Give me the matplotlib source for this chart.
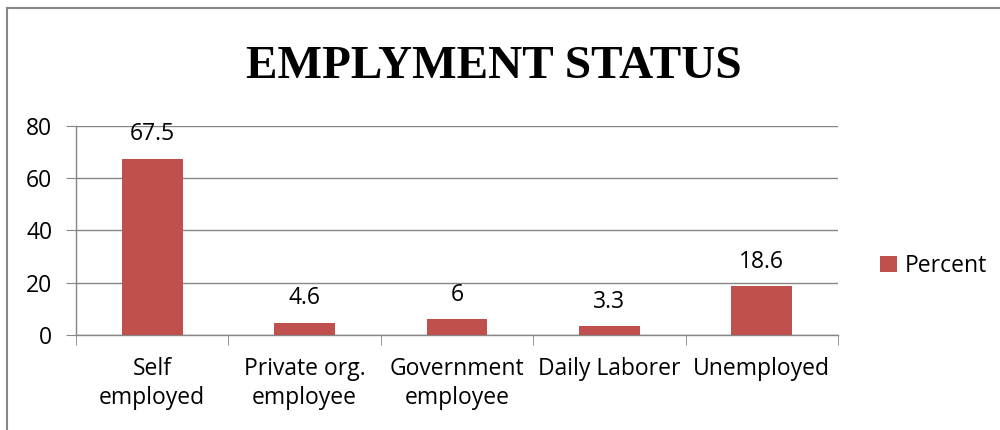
import matplotlib.pyplot as plt
from matplotlib.lines import Line2D

# data
categories = ['Self\nemployed', 'Private org.\nemployee', 'Government\nemployee',
              'Daily Laborer', 'Unemployed']
percent = [67.5, 4.6, 6, 3.3, 18.6]
value_labels = ['67.5', '4.6', '6', '3.3', '18.6']
y_ticks = [0, 20, 40, 60, 80]

plt.rcParams['font.family'] = ['Open Sans', 'DejaVu Sans']

fig = plt.figure(figsize=(10, 4.3), dpi=100)
ax = fig.add_axes([0.076, 0.221, 0.762, 0.486])

bar_color = '#C0504D'
grid_color = '#868686'
fs = 16.5

x = range(len(categories))
ax.bar(x, percent, width=0.4, color=bar_color, label='Percent', zorder=3)

for i, (v, s) in enumerate(zip(percent, value_labels)):
    ax.annotate(s, (i, v), xytext=(0, 9), textcoords='offset points',
                ha='center', va='bottom', fontsize=fs)

ax.set_xlim(-0.5, len(categories) - 0.5)
ax.set_ylim(0, 80)
ax.set_yticks(y_ticks)
ax.set_yticklabels([str(t) for t in y_ticks], fontsize=fs)
ax.yaxis.grid(True, color=grid_color, linewidth=1, zorder=0)
ax.set_axisbelow(True)

# category labels centred, boundary tick marks
ax.set_xticks(list(x))
ax.set_xticklabels(categories, fontsize=fs, linespacing=1.25)
ax.tick_params(axis='x', length=0, pad=16)
ax.set_xticks([i - 0.5 for i in range(len(categories) + 1)], minor=True)
ax.tick_params(axis='x', which='minor', length=7, color=grid_color, direction='out')
ax.tick_params(axis='y', length=7, color=grid_color, direction='out', pad=10)

for side in ['top', 'right']:
    ax.spines[side].set_visible(False)
for side in ['left', 'bottom']:
    ax.spines[side].set_color(grid_color)
    ax.spines[side].set_linewidth(1)

fig.text(0.494, 0.845, 'EMPLYMENT STATUS', ha='center', va='center',
         fontsize=34, fontweight='bold', family='Liberation Serif')

leg = fig.legend(loc='center left', bbox_to_anchor=(0.869, 0.381), frameon=False,
                 fontsize=fs, handlelength=0.7, handleheight=0.7,
                 handletextpad=0.35, borderpad=0)

# outer chart border (left and top edges visible)
fig.add_artist(Line2D([0.007, 0.007], [0, 0.981], color='#878787', linewidth=1.5,
                      transform=fig.transFigure))
fig.add_artist(Line2D([0.007, 1.0], [0.981, 0.981], color='#878787', linewidth=1.5,
                      transform=fig.transFigure))

fig.savefig('out.png', dpi=100)
